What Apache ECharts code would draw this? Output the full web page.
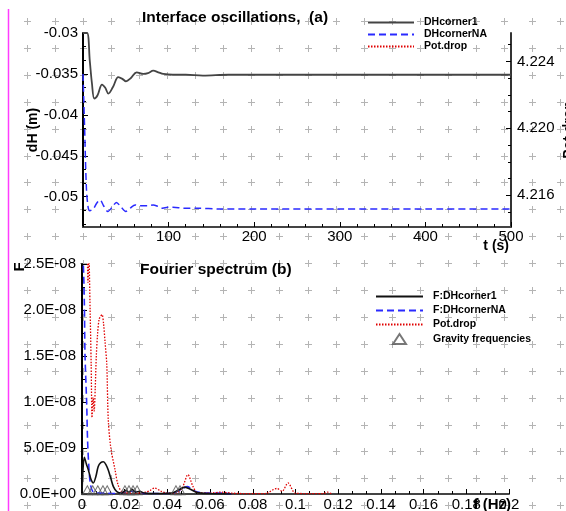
<!DOCTYPE html>
<html><head><meta charset="utf-8">
<script src="https://cdn.jsdelivr.net/npm/echarts@6/dist/echarts.min.js"></script>
<style>html,body{margin:0;padding:0;background:#fff}#c{width:566px;height:511px}</style>
</head><body><div id="c"></div>
<script>
// ---------- top panel: interface oscillations ----------
const tBlack = [0, 4.7, 8, 10.5, 13.2, 17, 22.2, 26, 29.6, 35, 41.2, 46, 50.2, 56, 62.7, 70.4, 76, 82.1, 88, 93.8, 105, 120, 140, 170, 200, 250, 300, 350, 400, 450, 500];
const dhCorner1 = [-0.0300, -0.0300, -0.0335, -0.0362, -0.0380, -0.0376, -0.0363, -0.0367, -0.0374, -0.0366, -0.0354, -0.0356, -0.0359, -0.0355, -0.0348, -0.0350, -0.0349, -0.0346, -0.0348, -0.0350, -0.0351, -0.0351, -0.0352, -0.0351, -0.0351, -0.0351, -0.0351, -0.0351, -0.0351, -0.0351, -0.0351];
const tNA = [0, 2, 4, 6, 8, 12, 16, 20, 24, 29, 34, 39, 44, 50, 55, 61, 66, 70, 76, 82, 88, 93, 99, 105, 118, 133, 160, 200, 300, 400, 500];
const dhCornerNA = [-0.0350, -0.0420, -0.0490, -0.0513, -0.0517, -0.0515, -0.0508, -0.0504, -0.0511, -0.0518, -0.0513, -0.0507, -0.0512, -0.0518, -0.0514, -0.0510, -0.0511, -0.0511, -0.0511, -0.0510, -0.0512, -0.0514, -0.0513, -0.0513, -0.0514, -0.0514, -0.0515, -0.0515, -0.0515, -0.0515, -0.0515];
const tPotTop = [];
const potDropTop = [];

// ---------- bottom panel: Fourier spectrum ----------
const fBlack = [0, 0.0005, 0.0011, 0.0020, 0.0030, 0.0042, 0.0053, 0.0065, 0.0076, 0.0088, 0.0100, 0.0112, 0.0123, 0.0135, 0.0147, 0.0163, 0.0185, 0.0205, 0.0220, 0.0235, 0.0250, 0.0270, 0.0290, 0.0350, 0.0420, 0.0450, 0.0482, 0.0510, 0.0540, 0.0600, 0.0700];
const ampCorner1 = [2e-10, 2.8e-9, 4.0e-9, 3.3e-9, 2.6e-9, 1.6e-9, 1.2e-9, 1.9e-9, 3.0e-9, 3.4e-9, 3.5e-9, 3.2e-9, 2.6e-9, 1.7e-9, 8e-10, 2.5e-10, 1e-10, 4e-10, 2e-10, 5e-10, 2e-10, 3e-10, 1e-10, 5e-11, 1e-10, 4e-10, 7.5e-10, 5e-10, 1.5e-10, 5e-11, 0];
const fNA = [0, 0.0006, 0.0011, 0.0014, 0.0022, 0.0026, 0.0033, 0.0040, 0.0050, 0.0070, 0.0100, 0.0150, 0.0200, 0.0240, 0.0280, 0.0350, 0.0420, 0.0460, 0.0492, 0.0530, 0.0580, 0.0650, 0.0700];
const ampCornerNA = [2.6e-8, 2.5e-8, 2.07e-8, 1.52e-8, 9.8e-9, 5.9e-9, 2.6e-9, 1.0e-9, 3e-10, 1.5e-10, 1e-10, 5e-11, 2e-10, 3e-10, 1e-10, 5e-11, 1e-10, 4e-10, 8e-10, 3e-10, 1e-10, 1e-10, 0];
const fPot = [0.0025, 0.0028, 0.0032, 0.0038, 0.0043, 0.0047, 0.0052, 0.0057, 0.0062, 0.0067, 0.0073, 0.0080, 0.0087, 0.0094, 0.0101, 0.0108, 0.0116, 0.0123, 0.0135, 0.0155, 0.0169, 0.0190, 0.0250, 0.0300, 0.0320, 0.0340, 0.0370, 0.0400, 0.0440, 0.0470, 0.0496, 0.0520, 0.0540, 0.0600, 0.0650, 0.0700, 0.0750, 0.0857, 0.0913, 0.0937, 0.0965, 0.0998, 0.1040, 0.1130, 0.1150, 0.1170];
const ampPot = [2.6e-8, 2.3e-8, 2.6e-8, 2.0e-8, 1.4e-8, 8.3e-9, 1.05e-8, 9.0e-9, 1.15e-8, 1.5e-8, 1.74e-8, 1.9e-8, 1.93e-8, 1.95e-8, 1.85e-8, 1.65e-8, 1.41e-8, 8.1e-9, 5.0e-9, 2.6e-9, 1.0e-9, 2e-10, 1e-10, 2e-10, 4e-10, 6.6e-10, 3e-10, 1e-10, 1e-10, 7e-10, 2.1e-9, 8e-10, 1.5e-10, 1e-10, 2e-10, 1e-10, 5e-11, 5e-11, 6e-10, 3e-10, 1.2e-9, 1e-10, 5e-11, 5e-11, 2e-10, 0];
const gravF = [0.0025, 0.0050, 0.0074, 0.0098, 0.0118, 0.0201, 0.0220, 0.0239, 0.0258, 0.0440, 0.0459];
const gravAmp = [4e-10, 4e-10, 4e-10, 4e-10, 4e-10, 4e-10, 4e-10, 4e-10, 4e-10, 4e-10, 4e-10];

// ---------- tick values ----------
const xTicksTop = [100, 200, 300, 400, 500];
const yTicksTopLeft = [-0.05, -0.045, -0.04, -0.035, -0.03];
const yTicksTopRight = [4.216, 4.220, 4.224];
const xTicksBottom = [0, 0.02, 0.04, 0.06, 0.08, 0.1, 0.12, 0.14, 0.16, 0.18, 0.2];
const yTicksBottom = [0, 5e-9, 1e-8, 1.5e-8, 2e-8, 2.5e-8];

const zip = (a, b) => a.map((v, i) => [v, b[i]]);
function minorBetween(majors, n, lo, hi) {
  const step = (majors[1] - majors[0]) / n;
  const out = [];
  const start = majors[0] - Math.floor((majors[0] - lo) / step) * step;
  for (let v = start; v <= hi + step * 1e-6; v += step) {
    if (!majors.some(m => Math.abs(m - v) < step * 1e-3)) out.push(+v.toPrecision(10));
  }
  return out;
}
function sci(v) {
  if (v === 0) return '0.0E+00';
  const s = v.toExponential(1).split('e');
  const n = parseInt(s[1], 10);
  return s[0] + 'E' + (n < 0 ? '-' : '+') + String(Math.abs(n)).padStart(2, '0');
}

const FF = '"Liberation Sans", Arial, sans-serif';
const LBL = { color: '#000', fontSize: 15, fontFamily: FF };
const TL = [-0.0537, -0.03], TR = [4.2141, 4.2257];
const NOSYM = { color: 'rgba(0,0,0,0)', borderColor: 'rgba(0,0,0,0)', borderWidth: 0 };

const gfx = [];
for (let i = 0; i < 20; i++) {
  for (let j = 0; j < 19; j++) {
    const x = Math.round(27 + 28.05 * i) + 0.5, y = Math.round(21 + 26.9 * j) + 0.5;
    gfx.push({ type: 'line', silent: true, z: 0, shape: { x1: x - 3.5, y1: y, x2: x + 3.5, y2: y }, style: { stroke: '#b4b4b4', lineWidth: 1 } });
    gfx.push({ type: 'line', silent: true, z: 0, shape: { x1: x, y1: y - 3.5, x2: x, y2: y + 3.5 }, style: { stroke: '#b4b4b4', lineWidth: 1 } });
  }
}
gfx.push({ type: 'line', silent: true, z: 1, shape: { x1: 8.5, y1: 9, x2: 8.5, y2: 511 }, style: { stroke: '#ff3cff', lineWidth: 1.5 } });
function txt(text, x, y, opts) {
  return Object.assign({ type: 'text', x: x, y: y, z: 50, silent: true,
    style: Object.assign({ text: text, fill: '#000', font: 'bold 14px ' + FF, align: 'left', textAlign: 'left', verticalAlign: 'middle', textVerticalAlign: 'middle' }, opts.style || {}) }, opts.el || {});
}
gfx.push(txt('Interface oscillations,  (a)', 142, 18, { style: { font: 'bold 15.5px ' + FF } }));
gfx.push(txt('Fourier spectrum (b)', 140, 270, { style: { font: 'bold 15.5px ' + FF } }));
gfx.push(txt('dH (m)', 33, 130, { style: { align: 'center', textAlign: 'center' }, el: { rotation: Math.PI / 2 } }));
gfx.push(txt('Pot.drop', 569, 130, { style: { align: 'center', textAlign: 'center' }, el: { rotation: Math.PI / 2 } }));
gfx.push(txt('t (s)', 509, 246, { style: { align: 'right', textAlign: 'right' } }));
gfx.push(txt('F', 20, 267, { style: { align: 'center', textAlign: 'center', font: 'bold 15px ' + FF }, el: { rotation: Math.PI / 2 } }));
gfx.push(txt('f (Hz)', 511, 505, { style: { align: 'right', textAlign: 'right', font: 'bold 15px ' + FF } }));

const tickStyle = { color: '#000', width: 1 };
const legText = { fontSize: 10.5, fontWeight: 'bold', color: '#000', fontFamily: FF, lineHeight: 11, padding: [0, 0, 0, 5] };
const triIcon = 'path://M0,0L0,0M15.3,9L21.15,0L27,9ZM42.3,9L42.3,9';
const option = {
  backgroundColor: '#fff',
  animation: false,
  graphic: { elements: gfx },
  grid: [
    { left: 83, top: 33, width: 428, height: 194, outerBoundsMode: 'none', containLabel: false },
    { left: 82, top: 264, width: 427, height: 230, outerBoundsMode: 'none', containLabel: false }
  ],
  legend: [
    { data: [{ name: 'DHcorner1', itemStyle: NOSYM }, { name: 'DHcornerNA', itemStyle: NOSYM }, { name: 'Pot.drop', itemStyle: NOSYM }],
      orient: 'vertical', left: 367, top: 17, itemWidth: 46, itemHeight: 10, itemGap: 1, padding: 0, selectedMode: false, textStyle: legText },
    { data: [{ name: 'F:DHcorner1', itemStyle: NOSYM }, { name: 'F:DHcornerNA', itemStyle: NOSYM }, { name: 'Pot.drop', itemStyle: NOSYM },
             { name: 'Gravity frequencies', icon: triIcon }],
      orient: 'vertical', left: 375, top: 291, itemWidth: 47, itemHeight: 10, itemGap: 3, padding: 0, selectedMode: false, textStyle: legText }
  ],
  xAxis: [
    { gridIndex: 0, type: 'value', min: 0, max: 500, interval: 100,
      axisLine: { lineStyle: { color: '#444', width: 2 } },
      axisTick: { inside: true, length: 5, lineStyle: tickStyle },
      minorTick: { show: true, splitNumber: 5, length: 3, lineStyle: tickStyle },
      axisLabel: Object.assign({ margin: 2, customValues: xTicksTop }, LBL),
      splitLine: { show: false }, minorSplitLine: { show: false } },
    { gridIndex: 1, type: 'value', min: 0, max: 0.2, interval: 0.02,
      axisLine: { lineStyle: { color: '#444', width: 2 } },
      axisTick: { inside: true, length: 5, lineStyle: tickStyle },
      minorTick: { show: true, splitNumber: 3, length: 3, lineStyle: tickStyle },
      axisLabel: Object.assign({ margin: 3, customValues: xTicksBottom, formatter: v => String(+(+v).toFixed(2)) }, LBL),
      splitLine: { show: false } }
  ],
  yAxis: [
    { gridIndex: 0, type: 'value', position: 'left', min: TL[0], max: TL[1],
      axisLine: { show: true, lineStyle: { color: '#000', width: 2 } },
      axisTick: { show: true, inside: true, length: 5, customValues: yTicksTopLeft, lineStyle: tickStyle },
      axisLabel: Object.assign({ margin: 5, customValues: yTicksTopLeft, formatter: v => String(+(+v).toFixed(4)) }, LBL),
      splitLine: { show: false } },
    { gridIndex: 0, type: 'value', position: 'left', offset: 0, min: TL[0], max: TL[1],
      axisLine: { show: false }, axisLabel: { show: false }, splitLine: { show: false },
      axisTick: { show: true, inside: true, length: 3, customValues: minorBetween(yTicksTopLeft, 3, TL[0], TL[1]), lineStyle: tickStyle } },
    { gridIndex: 0, type: 'value', position: 'right', min: TR[0], max: TR[1],
      axisLine: { show: true, lineStyle: { color: '#333', width: 2 } },
      axisTick: { show: true, inside: true, length: 5, customValues: yTicksTopRight, lineStyle: tickStyle },
      axisLabel: Object.assign({ margin: 6, customValues: yTicksTopRight, formatter: v => (+v).toFixed(3) }, LBL),
      splitLine: { show: false } },
    { gridIndex: 0, type: 'value', position: 'right', offset: 0, min: TR[0], max: TR[1],
      axisLine: { show: false }, axisLabel: { show: false }, splitLine: { show: false },
      axisTick: { show: true, inside: true, length: 3, customValues: minorBetween(yTicksTopRight, 4, TR[0], TR[1]), lineStyle: tickStyle } },
    { gridIndex: 1, type: 'value', position: 'left', min: 0, max: 2.5e-8, interval: 5e-9,
      axisLine: { show: true, lineStyle: { color: '#000', width: 2 } },
      axisTick: { show: true, inside: true, length: 5, lineStyle: tickStyle },
      minorTick: { show: true, splitNumber: 2, length: 3, lineStyle: tickStyle },
      axisLabel: Object.assign({ margin: 6, customValues: yTicksBottom, formatter: v => sci(+v) }, LBL),
      splitLine: { show: false } }
  ],
  series: [
    { name: 'DHcorner1', type: 'line', xAxisIndex: 0, yAxisIndex: 0, data: zip(tBlack, dhCorner1), symbol: 'none', smooth: 0.35, z: 5,
      lineStyle: { color: '#444', width: 1.8 }, itemStyle: NOSYM },
    { name: 'DHcornerNA', type: 'line', xAxisIndex: 0, yAxisIndex: 0, data: zip(tNA, dhCornerNA), symbol: 'none', smooth: 0.3, z: 5,
      lineStyle: { color: '#2a2aff', width: 1.5, type: [7, 4] }, itemStyle: NOSYM },
    { name: 'Pot.drop', type: 'line', xAxisIndex: 0, yAxisIndex: 2, data: zip(tPotTop, potDropTop), symbol: 'none', z: 5,
      lineStyle: { color: '#e00000', width: 1.3, type: [1.5, 1.5] }, itemStyle: NOSYM },
    { name: 'F:DHcorner1', type: 'line', xAxisIndex: 1, yAxisIndex: 4, data: zip(fBlack, ampCorner1), symbol: 'none', smooth: 0.3, z: 6,
      lineStyle: { color: '#111', width: 1.6 }, itemStyle: NOSYM },
    { name: 'F:DHcornerNA', type: 'line', xAxisIndex: 1, yAxisIndex: 4, data: zip(fNA, ampCornerNA), symbol: 'none', smooth: 0.3, z: 5,
      lineStyle: { color: '#2a2aff', width: 1.6, type: [7, 4] }, itemStyle: NOSYM },
    { name: 'Pot.drop', type: 'line', xAxisIndex: 1, yAxisIndex: 4, data: zip(fPot, ampPot), symbol: 'none', smooth: 0.3, z: 5,
      lineStyle: { color: '#e00000', width: 1.3, type: [1.5, 1.5] }, itemStyle: NOSYM },
    { name: 'Gravity frequencies', type: 'scatter', xAxisIndex: 1, yAxisIndex: 4, data: zip(gravF, gravAmp), symbol: 'triangle', symbolSize: [10, 9], z: 7,
      itemStyle: { color: 'rgba(0,0,0,0)', borderColor: '#555', borderWidth: 1 } }
  ]
};
const chart = echarts.init(document.getElementById('c'), null, { renderer: 'canvas' });
chart.setOption(option);
</script></body></html>
